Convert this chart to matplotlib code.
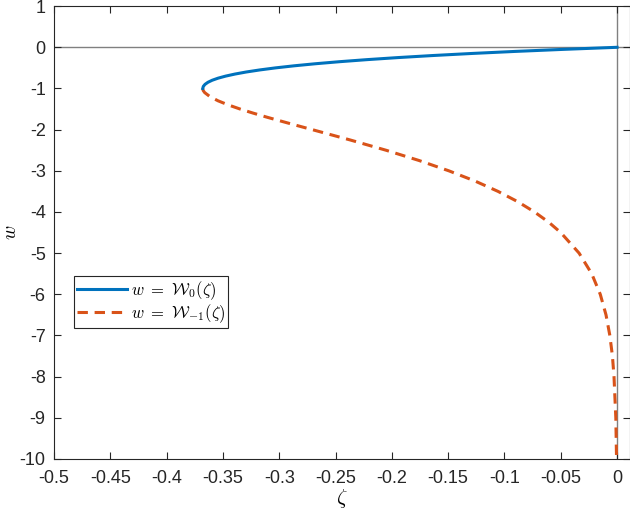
import numpy as np
import matplotlib.pyplot as plt

plt.rcParams['font.family'] = ['Liberation Sans', 'DejaVu Sans']
plt.rcParams['mathtext.fontset'] = 'cm'
plt.rcParams['axes.unicode_minus'] = False

# principal branch
w0 = [-1.0, -0.95, -0.9, -0.85, -0.8, -0.75, -0.7, -0.65, -0.6, -0.55, -0.5,
      -0.45, -0.4, -0.35, -0.3, -0.25, -0.2, -0.15, -0.1, -0.05, 0.0]
z0 = [-0.3679, -0.3674, -0.3659, -0.3633, -0.3595, -0.3543, -0.3476, -0.3393,
      -0.3293, -0.3173, -0.3033, -0.2869, -0.2681, -0.2466, -0.2222, -0.1947,
      -0.1637, -0.1291, -0.0905, -0.0476, 0.0]

# lower branch
w1 = [-1.0, -1.05, -1.1, -1.2, -1.3, -1.4, -1.5, -1.6, -1.7, -1.8, -1.9, -2.0,
      -2.25, -2.5, -2.75, -3.0, -3.25, -3.5, -3.75, -4.0, -4.25, -4.5, -5.0,
      -5.5, -6.0, -6.5, -7.0, -7.5, -8.0, -9.0, -10.0]
z1 = [-0.3679, -0.3675, -0.3662, -0.3614, -0.3543, -0.3452, -0.3347, -0.3230,
      -0.3106, -0.2975, -0.2842, -0.2707, -0.2371, -0.2052, -0.1758, -0.1494,
      -0.1260, -0.1057, -0.0882, -0.0733, -0.0606, -0.0500, -0.0337, -0.0225,
      -0.0149, -0.0098, -0.0064, -0.0041, -0.0027, -0.0011, -0.00045]

xt = np.round(np.arange(-0.5, 0.001, 0.05), 2)
xtl = ['-0.5', '-0.45', '-0.4', '-0.35', '-0.3', '-0.25', '-0.2', '-0.15',
       '-0.1', '-0.05', '0']
yt = list(range(-10, 2))

fig = plt.figure(figsize=(6.3, 5.11), dpi=100)
ax = fig.add_axes([0.0857, 0.1018, 0.9143, 0.8862])

ax.axhline(0, color='#808080', lw=1.0, zorder=1)
ax.axvline(0, color='#808080', lw=1.0, zorder=1)
ax.plot(z0, w0, color='#0072BD', lw=2.2, label=r'$w\ =\ \mathcal{W}_0(\zeta)$', zorder=3)
ax.plot(z1, w1, color='#D95319', lw=2.2, ls=(0, (3.4, 2.2)),
        label=r'$w\ =\ \mathcal{W}_{-1}(\zeta)$', zorder=2)

ax.set_xlim(-0.5, 0.0115)
ax.set_ylim(-10, 1)
ax.set_xticks(xt)
ax.set_xticklabels(xtl)
ax.set_yticks(yt)
ax.tick_params(direction='in', top=True, right=True, labelsize=13, length=5,
               width=0.8, colors='#262626')
ax.tick_params(axis='x', pad=8)
ax.tick_params(axis='y', pad=6)
for s in ax.spines.values():
    s.set_color('#262626')
    s.set_linewidth(0.8)

ax.set_xlabel(r'$\zeta$', fontsize=15, labelpad=0)
ax.set_ylabel(r'$w$', fontsize=14, labelpad=0)

leg = ax.legend(loc='upper left', bbox_to_anchor=(0.035, 0.404), fontsize=12,
                fancybox=False, framealpha=1, edgecolor='#262626',
                handlelength=3.0, handletextpad=0.2, borderpad=0.2,
                labelspacing=0.0, borderaxespad=0)
leg.get_frame().set_linewidth(0.8)

fig.savefig('out.png', dpi=100)
